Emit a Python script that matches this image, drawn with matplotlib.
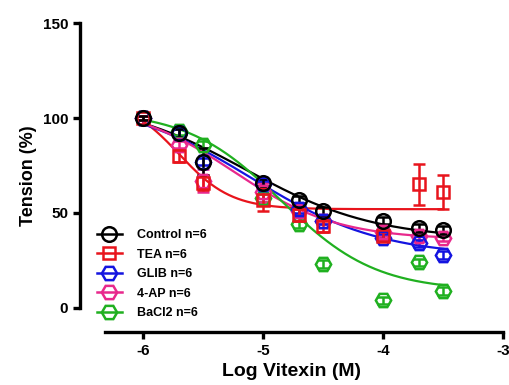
import numpy as np
import matplotlib
matplotlib.use("Agg")
import matplotlib.pyplot as plt
from matplotlib.lines import Line2D

plt.rcParams['font.family'] = ['Liberation Sans', 'DejaVu Sans']
plt.rcParams['font.weight'] = 'bold'

# log concentration of vitexin (M)
log_conc = [-6, -5.7, -5.5, -5, -4.7, -4.5, -4, -3.7, -3.5]

labels = ['Control n=6', 'TEA n=6', 'GLIB n=6', '4-AP n=6', 'BaCl2 n=6']
colors = ['#000000', '#e8141c', '#1414e0', '#e8288c', '#20b020']
markers = ['o', 's', 'H', 'H', 'H']

# mean tension (%)
control = [100, 92, 77, 66, 57, 51, 46, 42, 41]
tea = [100, 80, 66, 57, 49, 43, 38, 65, 61]
glib = [100, 92, 77, 65, 52, 46, 37, 34, 28]
four_ap = [100, 86, 67, 61, 51, 46, 40, 38, 37]
bacl2 = [100, 93, 86, 58, 44, 23, 4, 24, 9]

# SEM
control_err = [1, 2, 7, 2, 2, 2, 2, 2, 2]
tea_err = [1, 3, 4, 6, 3, 3, 2, 11, 9]
glib_err = [1, 2, 2, 2, 2, 2, 2, 2, 2]
four_ap_err = [1, 2, 6, 5, 2, 2, 2, 2, 2]
bacl2_err = [1, 2, 2, 2, 2, 2, 2, 2, 2]

# fitted curve parameters: top, bottom, logEC50, hill slope
fit_top = [110, 110, 110, 108, 104]
fit_bottom = [36, 52, 27, 36, 9]
fit_ec50 = [-5.15, -5.7, -5.1, -5.25, -4.85]
fit_hill = [0.8, 2.0, 0.8, 1.0, 1.1]

means = [control, tea, glib, four_ap, bacl2]
errs = [control_err, tea_err, glib_err, four_ap_err, bacl2_err]
sizes = [10.5, 8.5, 11, 11, 11]

fig = plt.figure(figsize=(5.1, 3.85), dpi=100)
ax = fig.add_axes([0.151, 0.136, 0.843, 0.814])

xs = np.linspace(log_conc[0], log_conc[-1], 200)
for i in range(5):
    yfit = fit_bottom[i] + (fit_top[i] - fit_bottom[i]) / (1 + 10 ** ((xs - fit_ec50[i]) * fit_hill[i]))
    ax.plot(xs, yfit, color=colors[i], lw=1.6, zorder=2)

# control drawn last so it sits on top
for i in reversed(range(5)):
    ax.errorbar(log_conc, means[i], yerr=errs[i], fmt=markers[i], color=colors[i],
                mfc='none', mec=colors[i], ms=sizes[i], mew=1.8,
                elinewidth=1.8, capsize=4, capthick=1.8, zorder=3)

ax.set_xlim(-6.55, -2.97)
ax.set_ylim(-13, 152)
ax.set_xticks([-6, -5, -4, -3])
ax.set_yticks([0, 50, 100, 150])
ax.set_xticklabels(['-6', '-5', '-4', '-3'])

for s in ['top', 'right']:
    ax.spines[s].set_visible(False)
ax.spines['left'].set_position(('data', -6.525))
ax.spines['left'].set_bounds(0, 150)
ax.spines['bottom'].set_position(('data', -12.6))
ax.spines['bottom'].set_bounds(-6.32, -3)
ax.spines['left'].set_linewidth(2.4)
ax.spines['bottom'].set_linewidth(2.4)
ax.tick_params(width=2.4, length=5, labelsize=11)
for t in ax.get_xticklabels() + ax.get_yticklabels():
    t.set_fontweight('bold')

ax.set_xlabel('Log Vitexin (M)', fontsize=14, fontweight='bold', labelpad=4)
ax.set_ylabel('Tension (%)', fontsize=13, fontweight='bold', labelpad=4)

handles = [Line2D([], [], color=colors[i], marker=markers[i], mfc='none', mec=colors[i],
                  ms=sizes[i], mew=1.8, lw=1.8) for i in range(5)]
ax.legend(handles, labels, loc='upper left', bbox_to_anchor=(0.19, 0.405),
          bbox_transform=fig.transFigure, frameon=False,
          handlelength=2.0, handletextpad=1.2, labelspacing=0.6,
          borderpad=0, borderaxespad=0, prop={'weight': 'bold', 'size': 9})

fig.savefig('out.png', dpi=100)
